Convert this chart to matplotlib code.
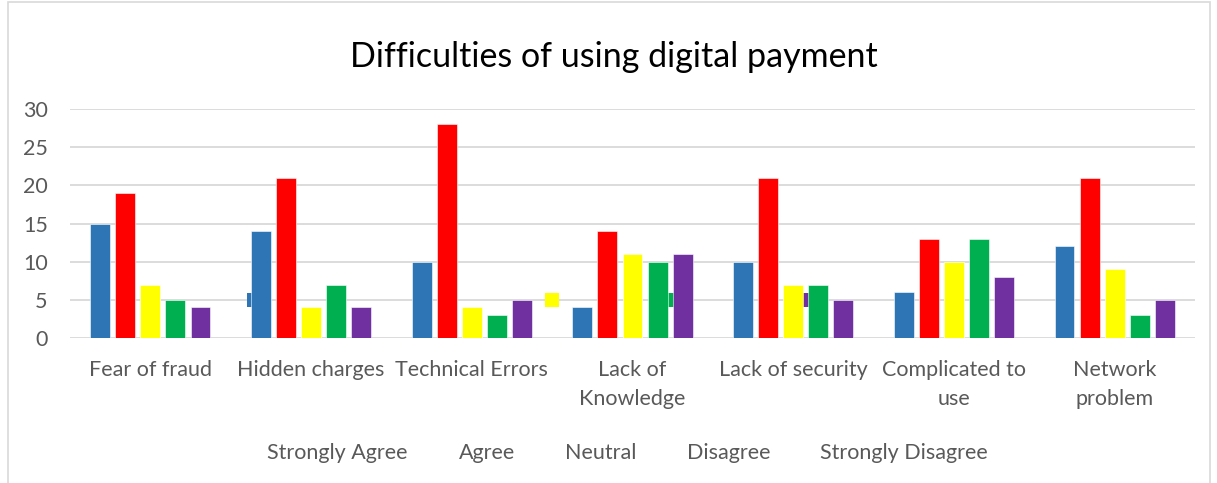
import numpy as np
import matplotlib.pyplot as plt
from matplotlib.patches import Rectangle
import matplotlib.transforms as mtransforms

plt.rcParams['font.family'] = ['Lato', 'DejaVu Sans']

## Datos
categorias = ['Fear of fraud', 'Hidden charges', 'Technical Errors', 'Lack of\nKnowledge',
              'Lack of security', 'Complicated to\nuse', 'Network\nproblem']
respuestas = ['Strongly Agree', 'Agree', 'Neutral', 'Disagree', 'Strongly Disagree']
strongly_agree = [15, 14, 10, 4, 10, 6, 12]
agree = [19, 21, 28, 14, 21, 13, 21]
neutral = [7, 4, 4, 11, 7, 10, 9]
disagree = [5, 7, 3, 10, 7, 13, 3]
strongly_disagree = [4, 4, 5, 11, 5, 8, 5]
series = [strongly_agree, agree, neutral, disagree, strongly_disagree]
colores = ['#2E75B6', '#FF0000', '#FFFF00', '#00B050', '#7030A0']

W, H = 1217, 483
fig = plt.figure(figsize=(W / 100, H / 100), dpi=100)

## borde del grafico
fig.patches.append(Rectangle((8 / W, -0.1), (1210 - 8) / W, 1.1 - 2 / H,
                             transform=fig.transFigure, fill=False,
                             edgecolor='#D9D9D9', linewidth=1.2))

ax = fig.add_axes([70 / W, 1 - 338 / H, (1195 - 70) / W, (338 - 109) / H])

x = np.arange(len(categorias))
ancho = 0.124
paso = 0.156
for i, (vals, c) in enumerate(zip(series, colores)):
    ax.bar(x + (i - 2) * paso, vals, ancho, color=c, zorder=3,
           edgecolor='white', linewidth=0.4)

ax.set_xlim(-0.5, len(categorias) - 0.5)
ax.set_ylim(0, 30)
ax.set_yticks(range(0, 31, 5))
ax.yaxis.grid(True, color='#D9D9D9', linewidth=1.3, zorder=0)
ax.set_axisbelow(True)
for s in ax.spines.values():
    s.set_visible(False)
ax.tick_params(axis='y', length=0, labelsize=15.5, labelcolor='#595959', pad=16)
ax.tick_params(axis='x', length=0, labelsize=15.5, labelcolor='#595959', pad=16)
ax.set_xticks(x)
ax.set_xticklabels(categorias, linespacing=1.55, va='top')

fig.text(614 / W, 1 - 57 / H, 'Difficulties of using digital payment',
         ha='center', va='center', fontsize=24.5, color='black')

## leyenda (marcadores quedan dentro del area del grafico)
texto_x = [267, 459, 565, 687, 820]
trans = mtransforms.blended_transform_factory(fig.transFigure, ax.transData)
for tx, lab, c in zip(texto_x, respuestas, colores):
    fig.text(tx / W, 1 - 453 / H, lab, ha='left', va='center',
             fontsize=15.5, color='#595959')
    ax.add_patch(Rectangle(((tx - 20) / W, 4.1), 14 / W, 1.8, transform=trans,
                           facecolor=c, edgecolor='none', zorder=2))

fig.savefig('out.png', dpi=100)
